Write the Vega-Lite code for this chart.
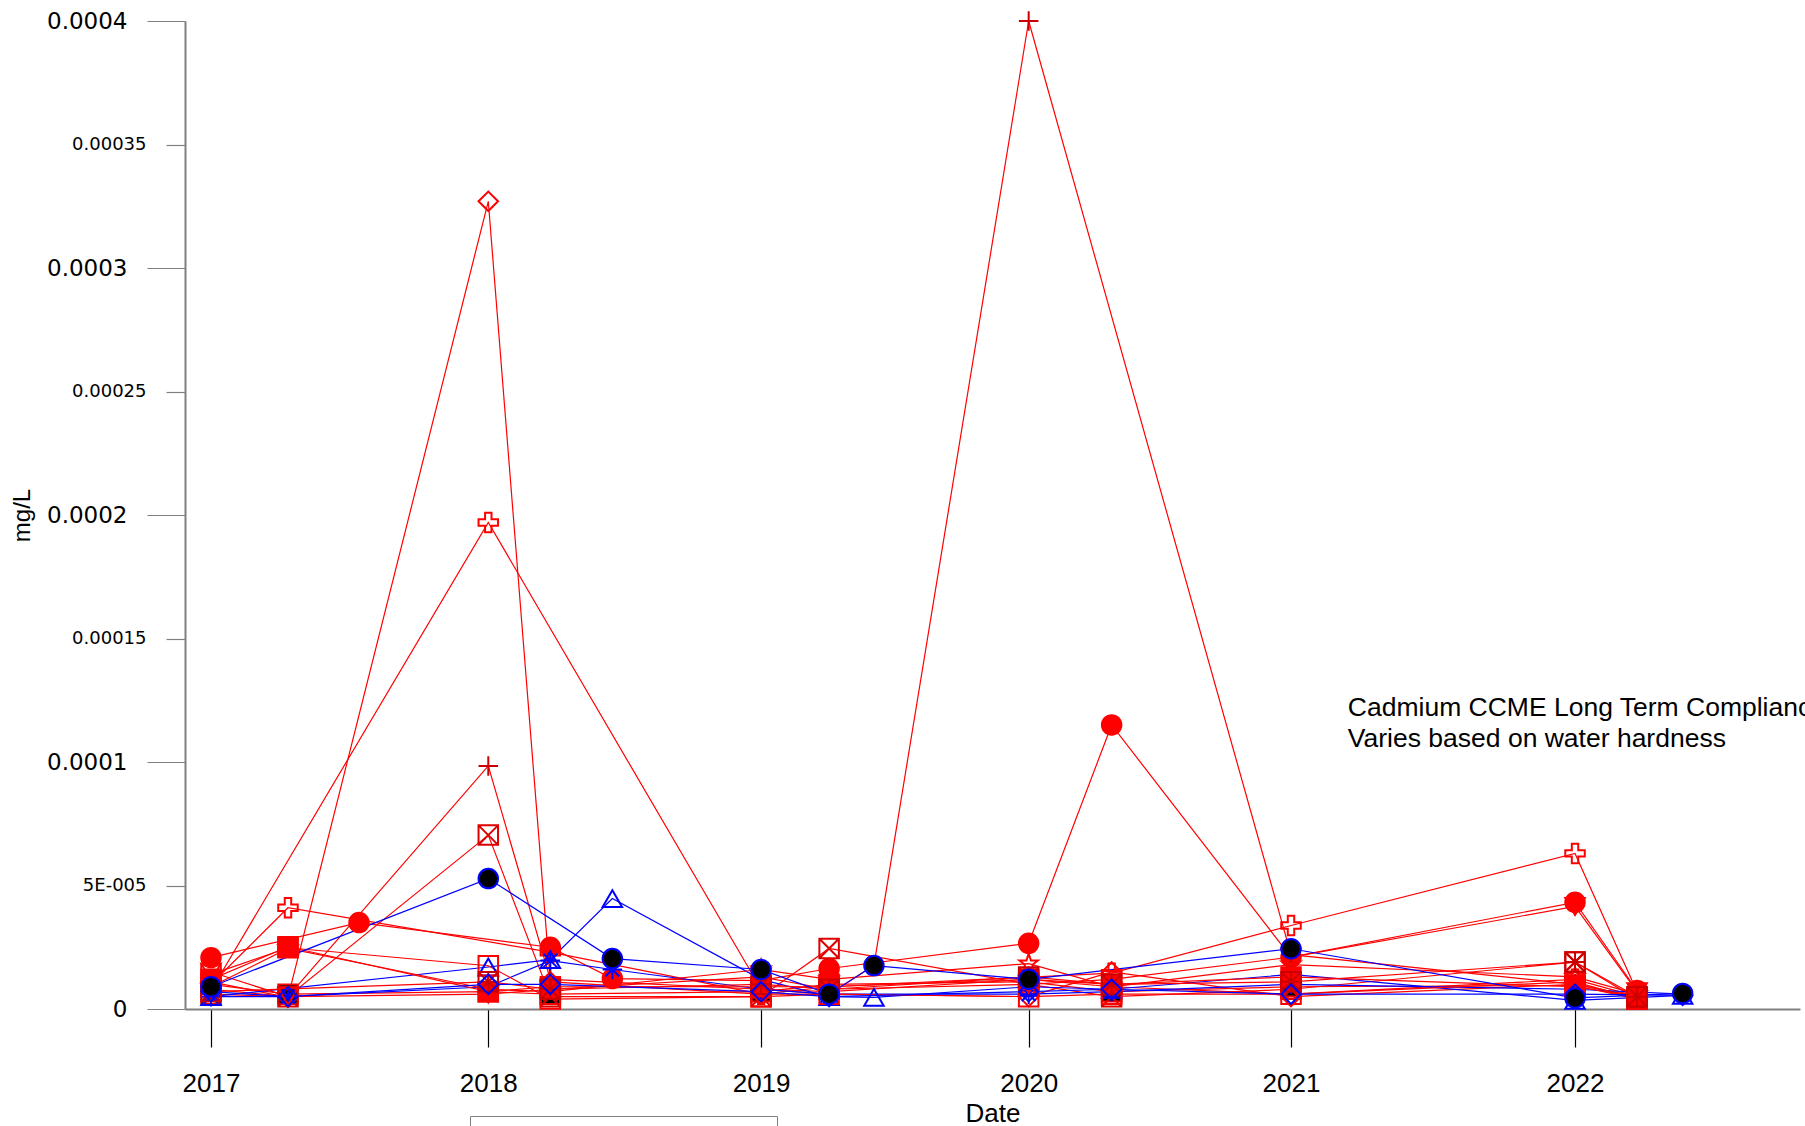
{
  "$schema": "https://vega.github.io/schema/vega-lite/v6.json",
  "width": 1615,
  "height": 988,
  "autosize": {"type": "none"},
  "padding": {"left": 185, "top": 21, "right": 5, "bottom": 117},
  "background": "white",
  "config": {"view": {"stroke": null}, "font": "Liberation Sans"},
  "datasets": {
    "obs": [
      {"site": "Station 15", "date": "2017-03-01", "value": 1.0e-5},
      {"site": "Station 15", "date": "2017-06-12", "value": 0.6e-5},
      {"site": "Station 15", "date": "2018-03-07", "value": 0.7e-5},
      {"site": "Station 15", "date": "2018-05-29", "value": 0.6e-5},
      {"site": "Station 15", "date": "2019-03-07", "value": 0.7e-5},
      {"site": "Station 15", "date": "2019-06-06", "value": 1.0e-5},
      {"site": "Station 15", "date": "2020-02-28", "value": 1.1e-5},
      {"site": "Station 15", "date": "2020-06-18", "value": 0.7e-5},
      {"site": "Station 15", "date": "2021-02-13", "value": 0.9e-5},
      {"site": "Station 15", "date": "2022-02-28", "value": 0.95e-5},
      {"site": "Station 15", "date": "2022-05-22", "value": 0.4e-5},

      {"site": "Station 01", "date": "2017-03-01", "value": 2.08e-5},
      {"site": "Station 01", "date": "2017-09-15", "value": 3.5e-5},
      {"site": "Station 01", "date": "2018-05-29", "value": 2.5e-5},
      {"site": "Station 01", "date": "2018-08-20", "value": 1.23e-5},
      {"site": "Station 01", "date": "2019-03-07", "value": 1.15e-5},
      {"site": "Station 01", "date": "2019-06-06", "value": 1.64e-5},
      {"site": "Station 01", "date": "2020-02-28", "value": 2.66e-5},
      {"site": "Station 01", "date": "2020-06-18", "value": 11.5e-5},
      {"site": "Station 01", "date": "2021-02-13", "value": 2.1e-5},
      {"site": "Station 01", "date": "2022-02-28", "value": 4.32e-5},
      {"site": "Station 01", "date": "2022-05-22", "value": 0.75e-5},

      {"site": "Station 02", "date": "2017-03-01", "value": 1.0e-5},
      {"site": "Station 02", "date": "2017-06-12", "value": 4.1e-5},
      {"site": "Station 02", "date": "2018-05-29", "value": 2.3e-5},
      {"site": "Station 02", "date": "2019-03-07", "value": 0.6e-5},
      {"site": "Station 02", "date": "2019-06-06", "value": 0.9e-5},
      {"site": "Station 02", "date": "2020-06-18", "value": 1.45e-5},
      {"site": "Station 02", "date": "2021-02-13", "value": 3.38e-5},
      {"site": "Station 02", "date": "2022-02-28", "value": 6.3e-5},
      {"site": "Station 02", "date": "2022-05-22", "value": 0.7e-5},

      {"site": "Station 03", "date": "2017-03-01", "value": 1.1e-5},
      {"site": "Station 03", "date": "2017-06-12", "value": 0.47e-5},
      {"site": "Station 03", "date": "2018-03-07", "value": 32.7e-5},
      {"site": "Station 03", "date": "2018-05-29", "value": 1.1e-5},
      {"site": "Station 03", "date": "2019-03-07", "value": 0.6e-5},
      {"site": "Station 03", "date": "2019-06-06", "value": 0.6e-5},
      {"site": "Station 03", "date": "2020-02-28", "value": 0.5e-5},
      {"site": "Station 03", "date": "2020-06-18", "value": 1.5e-5},
      {"site": "Station 03", "date": "2021-02-13", "value": 0.5e-5},
      {"site": "Station 03", "date": "2022-02-28", "value": 1.0e-5},
      {"site": "Station 03", "date": "2022-05-22", "value": 0.5e-5},

      {"site": "Station 04", "date": "2017-03-01", "value": 0.8e-5},
      {"site": "Station 04", "date": "2017-06-12", "value": 0.5e-5},
      {"site": "Station 04", "date": "2018-03-07", "value": 9.84e-5},
      {"site": "Station 04", "date": "2018-05-29", "value": 1.2e-5},
      {"site": "Station 04", "date": "2019-03-07", "value": 0.8e-5},
      {"site": "Station 04", "date": "2019-06-06", "value": 0.6e-5},
      {"site": "Station 04", "date": "2019-08-05", "value": 1.77e-5},
      {"site": "Station 04", "date": "2020-02-28", "value": 40e-5},
      {"site": "Station 04", "date": "2021-02-13", "value": 2.2e-5},
      {"site": "Station 04", "date": "2022-02-28", "value": 1.0e-5},
      {"site": "Station 04", "date": "2022-05-22", "value": 0.5e-5},

      {"site": "Station 05", "date": "2017-03-01", "value": 0.6e-5},
      {"site": "Station 05", "date": "2017-06-12", "value": 0.5e-5},
      {"site": "Station 05", "date": "2018-03-07", "value": 7.04e-5},
      {"site": "Station 05", "date": "2018-05-29", "value": 0.5e-5},
      {"site": "Station 05", "date": "2019-03-07", "value": 0.5e-5},
      {"site": "Station 05", "date": "2019-06-06", "value": 2.45e-5},
      {"site": "Station 05", "date": "2020-02-28", "value": 1.0e-5},
      {"site": "Station 05", "date": "2020-06-18", "value": 0.5e-5},
      {"site": "Station 05", "date": "2021-02-13", "value": 0.8e-5},
      {"site": "Station 05", "date": "2022-02-28", "value": 1.9e-5},
      {"site": "Station 05", "date": "2022-05-22", "value": 0.4e-5},

      {"site": "Station 06", "date": "2017-03-01", "value": 0.75e-5},
      {"site": "Station 06", "date": "2018-03-07", "value": 19.7e-5},
      {"site": "Station 06", "date": "2019-03-07", "value": 0.8e-5},
      {"site": "Station 06", "date": "2019-06-06", "value": 0.7e-5},
      {"site": "Station 06", "date": "2020-02-28", "value": 1.2e-5},
      {"site": "Station 06", "date": "2020-06-18", "value": 0.9e-5},
      {"site": "Station 06", "date": "2021-02-13", "value": 0.6e-5},
      {"site": "Station 06", "date": "2022-02-28", "value": 1.2e-5},
      {"site": "Station 06", "date": "2022-05-22", "value": 0.5e-5},

      {"site": "Station 08", "date": "2017-03-01", "value": 0.5e-5},
      {"site": "Station 08", "date": "2018-03-07", "value": 1.7e-5},
      {"site": "Station 08", "date": "2018-05-29", "value": 2.0e-5},
      {"site": "Station 08", "date": "2018-08-20", "value": 4.47e-5},
      {"site": "Station 08", "date": "2019-03-07", "value": 1.2e-5},
      {"site": "Station 08", "date": "2019-06-06", "value": 0.5e-5},
      {"site": "Station 08", "date": "2019-08-05", "value": 0.47e-5},
      {"site": "Station 08", "date": "2020-02-28", "value": 0.9e-5},
      {"site": "Station 08", "date": "2020-06-18", "value": 0.8e-5},
      {"site": "Station 08", "date": "2021-02-13", "value": 1.4e-5},
      {"site": "Station 08", "date": "2022-02-28", "value": 0.35e-5},
      {"site": "Station 08", "date": "2022-07-22", "value": 0.55e-5},

      {"site": "Station 09", "date": "2017-03-01", "value": 0.5e-5},
      {"site": "Station 09", "date": "2017-06-12", "value": 0.5e-5},
      {"site": "Station 09", "date": "2018-03-07", "value": 0.9e-5},
      {"site": "Station 09", "date": "2018-05-29", "value": 1.96e-5},
      {"site": "Station 09", "date": "2018-08-20", "value": 1.6e-5},
      {"site": "Station 09", "date": "2019-03-07", "value": 0.8e-5},
      {"site": "Station 09", "date": "2019-06-06", "value": 0.6e-5},
      {"site": "Station 09", "date": "2020-02-28", "value": 0.6e-5},
      {"site": "Station 09", "date": "2020-06-18", "value": 0.7e-5},
      {"site": "Station 09", "date": "2021-02-13", "value": 1.0e-5},
      {"site": "Station 09", "date": "2022-02-28", "value": 0.8e-5},
      {"site": "Station 09", "date": "2022-07-22", "value": 0.6e-5},

      {"site": "Station 10", "date": "2017-03-01", "value": 1.2e-5},
      {"site": "Station 10", "date": "2017-06-12", "value": 2.52e-5},
      {"site": "Station 10", "date": "2018-03-07", "value": 0.7e-5},
      {"site": "Station 10", "date": "2018-05-29", "value": 0.9e-5},
      {"site": "Station 10", "date": "2019-03-07", "value": 0.9e-5},
      {"site": "Station 10", "date": "2019-06-06", "value": 0.9e-5},
      {"site": "Station 10", "date": "2020-02-28", "value": 1.2e-5},
      {"site": "Station 10", "date": "2020-06-18", "value": 1.0e-5},
      {"site": "Station 10", "date": "2021-02-13", "value": 1.3e-5},
      {"site": "Station 10", "date": "2022-02-28", "value": 0.9e-5},
      {"site": "Station 10", "date": "2022-05-22", "value": 0.5e-5},

      {"site": "Station 11", "date": "2017-03-01", "value": 1.4e-5},
      {"site": "Station 11", "date": "2017-06-12", "value": 2.48e-5},
      {"site": "Station 11", "date": "2018-03-07", "value": 1.75e-5},
      {"site": "Station 11", "date": "2018-05-29", "value": 0.4e-5},
      {"site": "Station 11", "date": "2019-03-07", "value": 0.5e-5},
      {"site": "Station 11", "date": "2019-06-06", "value": 0.6e-5},
      {"site": "Station 11", "date": "2020-02-28", "value": 0.5e-5},
      {"site": "Station 11", "date": "2020-06-18", "value": 0.6e-5},
      {"site": "Station 11", "date": "2021-02-13", "value": 0.6e-5},
      {"site": "Station 11", "date": "2022-02-28", "value": 1.1e-5},
      {"site": "Station 11", "date": "2022-05-22", "value": 0.4e-5},

      {"site": "Station 12", "date": "2017-03-01", "value": 0.9e-5},
      {"site": "Station 12", "date": "2017-06-12", "value": 2.45e-5},
      {"site": "Station 12", "date": "2018-03-07", "value": 0.8e-5},
      {"site": "Station 12", "date": "2018-05-29", "value": 0.7e-5},
      {"site": "Station 12", "date": "2019-03-07", "value": 1.6e-5},
      {"site": "Station 12", "date": "2019-06-06", "value": 1.2e-5},
      {"site": "Station 12", "date": "2020-02-28", "value": 1.84e-5},
      {"site": "Station 12", "date": "2020-06-18", "value": 0.9e-5},
      {"site": "Station 12", "date": "2021-02-13", "value": 1.8e-5},
      {"site": "Station 12", "date": "2022-02-28", "value": 1.3e-5},
      {"site": "Station 12", "date": "2022-05-22", "value": 0.6e-5},

      {"site": "Station 13", "date": "2017-03-01", "value": 1.5e-5},
      {"site": "Station 13", "date": "2017-06-12", "value": 0.5e-5},
      {"site": "Station 13", "date": "2018-03-07", "value": 0.6e-5},
      {"site": "Station 13", "date": "2018-05-29", "value": 0.8e-5},
      {"site": "Station 13", "date": "2019-03-07", "value": 1.3e-5},
      {"site": "Station 13", "date": "2019-06-06", "value": 0.8e-5},
      {"site": "Station 13", "date": "2020-02-28", "value": 1.0e-5},
      {"site": "Station 13", "date": "2020-06-18", "value": 1.2e-5},
      {"site": "Station 13", "date": "2021-02-13", "value": 2.1e-5},
      {"site": "Station 13", "date": "2022-02-28", "value": 4.15e-5},
      {"site": "Station 13", "date": "2022-05-22", "value": 0.7e-5},

      {"site": "Station 14", "date": "2017-03-01", "value": 0.7e-5},
      {"site": "Station 14", "date": "2018-03-07", "value": 1.1e-5},
      {"site": "Station 14", "date": "2018-05-29", "value": 0.8e-5},
      {"site": "Station 14", "date": "2019-03-07", "value": 1.0e-5},
      {"site": "Station 14", "date": "2019-06-06", "value": 0.8e-5},
      {"site": "Station 14", "date": "2020-02-28", "value": 1.3e-5},
      {"site": "Station 14", "date": "2020-06-18", "value": 1.0e-5},
      {"site": "Station 14", "date": "2021-02-13", "value": 1.1e-5},
      {"site": "Station 14", "date": "2022-02-28", "value": 1.9e-5},
      {"site": "Station 14", "date": "2022-05-22", "value": 0.5e-5},

      {"site": "Station 16", "date": "2017-03-01", "value": 0.7e-5},
      {"site": "Station 16", "date": "2017-06-12", "value": 0.5e-5},
      {"site": "Station 16", "date": "2018-03-07", "value": 1.0e-5},
      {"site": "Station 16", "date": "2018-05-29", "value": 1.0e-5},
      {"site": "Station 16", "date": "2019-03-07", "value": 0.7e-5},
      {"site": "Station 16", "date": "2019-06-06", "value": 0.5e-5},
      {"site": "Station 16", "date": "2020-02-28", "value": 0.7e-5},
      {"site": "Station 16", "date": "2020-06-18", "value": 0.8e-5},
      {"site": "Station 16", "date": "2021-02-13", "value": 0.6e-5},
      {"site": "Station 16", "date": "2022-02-28", "value": 0.6e-5},
      {"site": "Station 16", "date": "2022-07-22", "value": 0.55e-5},

      {"site": "Station 07", "date": "2017-03-01", "value": 0.9e-5},
      {"site": "Station 07", "date": "2018-03-07", "value": 5.28e-5},
      {"site": "Station 07", "date": "2018-08-20", "value": 2.04e-5},
      {"site": "Station 07", "date": "2019-03-07", "value": 1.6e-5},
      {"site": "Station 07", "date": "2019-06-06", "value": 0.6e-5},
      {"site": "Station 07", "date": "2019-08-05", "value": 1.76e-5},
      {"site": "Station 07", "date": "2020-02-28", "value": 1.2e-5},
      {"site": "Station 07", "date": "2021-02-13", "value": 2.44e-5},
      {"site": "Station 07", "date": "2022-02-28", "value": 0.45e-5},
      {"site": "Station 07", "date": "2022-07-22", "value": 0.63e-5}
    ],
    "note": [
      {"label": "Cadmium CCME Long Term Compliance", "date": "2021-04-30", "value": 12.17e-5},
      {"label": "Varies based on water hardness", "date": "2021-04-30", "value": 10.95e-5}
    ]
  },
  "layer": [
    {
      "data": {"name": "obs"},
      "mark": {"type": "line", "strokeWidth": 1.2},
      "encoding": {
        "x": {
          "field": "date", "type": "temporal",
          "scale": {"type": "utc", "domain": [{"year": 2017, "month": 1, "date": 25, "hours": 5, "utc": true}, {"year": 2022, "month": 12, "date": 26, "utc": true}]},
          "axis": {
            "values": [
              {"year": 2017, "month": 3, "date": 1, "utc": true},
              {"year": 2018, "month": 3, "date": 7, "utc": true},
              {"year": 2019, "month": 3, "date": 7, "utc": true},
              {"year": 2020, "month": 2, "date": 28, "utc": true},
              {"year": 2021, "month": 2, "date": 13, "utc": true},
              {"year": 2022, "month": 2, "date": 28, "utc": true}
            ],
            "labelExpr": "utcFormat(datum.value, '%Y')",
            "grid": false,
            "tickSize": 38, "tickColor": "#000000", "tickWidth": 1.2,
            "domainColor": "#808080", "domainWidth": 2,
            "labelFont": "Liberation Sans", "labelFontSize": 26, "labelColor": "#000000", "labelPadding": 23,
            "labelFlush": false, "labelOverlap": false, "labelBound": false,
            "title": "Date", "titleFont": "Liberation Sans", "titleFontSize": 26, "titleFontWeight": "normal",
            "titleColor": "#000000", "titleY": 112, "titleBaseline": "alphabetic"
          }
        },
        "y": {
          "field": "value", "type": "quantitative",
          "scale": {"domain": [0, 0.0004], "nice": false, "zero": true},
          "axis": {
            "values": [0, 5e-5, 1e-4, 1.5e-4, 2e-4, 2.5e-4, 3e-4, 3.5e-4, 4e-4],
            "labelExpr": "datum.value < 1e-6 ? '0' : (abs(datum.value - 5e-5) < 1e-6 ? '5E-005' : format(datum.value, '.5~f'))",
            "grid": false,
            "tickSize": {"condition": {"test": "round(datum.value * 100000) % 10 === 0", "value": 38}, "value": 19},
            "labelFontSize": {"condition": {"test": "round(datum.value * 100000) % 10 === 0", "value": 23}, "value": 18},
            "labelFont": "DejaVu Sans",
            "labelColor": "#000000",
            "labelPadding": 20,
            "tickColor": "#808080", "tickWidth": 1.2,
            "domainColor": "#808080", "domainWidth": 2,
            "labelFlush": false, "labelOverlap": false, "labelBound": false,
            "title": "mg/L", "titleFont": "Liberation Sans", "titleFontSize": 24, "titleFontWeight": "normal",
            "titleColor": "#000000", "titleAngle": 270, "titleX": -163, "titleBaseline": "middle", "titleAlign": "center"
          }
        },
        "detail": {"field": "site", "type": "nominal"},
        "color": {
          "field": "site", "type": "nominal",
          "scale": {
            "domain": ["Station 01", "Station 02", "Station 03", "Station 04", "Station 05", "Station 06", "Station 07", "Station 08", "Station 09", "Station 10", "Station 11", "Station 12", "Station 13", "Station 14", "Station 15", "Station 16"],
            "range": ["#FF0000", "#FF0000", "#FF0000", "#FF0000", "#FF0000", "#FF0000", "#0000FF", "#0000FF", "#0000FF", "#FF0000", "#FF0000", "#FF0000", "#FF0000", "#FF0000", "#FF0000", "#0000FF"]
          }
        }
      }
    },
    {
      "data": {"name": "obs"},
      "mark": {"type": "point", "filled": true, "size": 380, "strokeWidth": 2, "opacity": 1, "fillOpacity": 1},
      "encoding": {
        "x": {"field": "date", "type": "temporal"},
        "y": {"field": "value", "type": "quantitative"},
        "shape": {
          "field": "site", "type": "nominal",
          "scale": {
            "domain": ["Station 01", "Station 02", "Station 03", "Station 04", "Station 05", "Station 06", "Station 07", "Station 08", "Station 09", "Station 10", "Station 11", "Station 12", "Station 13", "Station 14", "Station 15", "Station 16"],
            "range": [
              "circle",
              "M-0.33,-1H0.33V-0.33H1V0.33H0.33V1H-0.33V0.33H-1V-0.33H-0.33Z",
              "diamond",
              "M-1,0H1M0,-1V1",
              "M-1,-1H1V1H-1ZM-1,-1L1,1M1,-1L-1,1",
              "M-0.33,-1H0.33V-0.33H1V0.33H0.33V1H-0.33V0.33H-1V-0.33H-0.33Z",
              "circle",
              "triangle-up",
              "M-1,0H1M0,-1V1M-0.7,-0.7L0.7,0.7M0.7,-0.7L-0.7,0.7",
              "square",
              "square",
              "M0,-1L0.235,-0.324L0.951,-0.309L0.38,0.124L0.588,0.809L0,0.4L-0.588,0.809L-0.38,0.124L-0.951,-0.309L-0.235,-0.324Z",
              "triangle-down",
              "M-1,-1H1V1H-1ZM-1,-1L1,1M1,-1L-1,1M0,-1V1M-1,0H1",
              "square",
              "diamond"
            ]
          },
          "legend": {
            "orient": "none", "legendX": 285, "legendY": 1095,
            "strokeColor": "#808080", "fillColor": "#FFFFFF", "padding": 145.5,
            "title": null, "labelExpr": "''", "labelOffset": 4,
            "symbolSize": 100, "symbolStrokeWidth": 1.5, "direction": "vertical"
          }
        },
        "stroke": {
          "field": "site", "type": "nominal",
          "scale": {
            "domain": ["Station 01", "Station 02", "Station 03", "Station 04", "Station 05", "Station 06", "Station 07", "Station 08", "Station 09", "Station 10", "Station 11", "Station 12", "Station 13", "Station 14", "Station 15", "Station 16"],
            "range": ["#FF0000", "#FF0000", "#FF0000", "#CC0000", "#DD0000", "#FF0000", "#0000FF", "#0000FF", "#0000FF", "#FF0000", "#FF0000", "#FF0000", "#FF0000", "#CC0000", "#FF0000", "#0000FF"]
          }
        },
        "fill": {
          "field": "site", "type": "nominal",
          "scale": {
            "domain": ["Station 01", "Station 02", "Station 03", "Station 04", "Station 05", "Station 06", "Station 07", "Station 08", "Station 09", "Station 10", "Station 11", "Station 12", "Station 13", "Station 14", "Station 15", "Station 16"],
            "range": ["#FF0000", "transparent", "transparent", "transparent", "transparent", "transparent", "#000000", "transparent", "transparent", "#FF0000", "transparent", "transparent", "transparent", "transparent", "#000000", "transparent"]
          }
        }
      }
    },
    {
      "data": {"name": "note"},
      "mark": {"type": "text", "align": "left", "baseline": "middle", "font": "Liberation Sans", "fontSize": 26.5, "color": "#000000"},
      "encoding": {
        "x": {"field": "date", "type": "temporal"},
        "y": {"field": "value", "type": "quantitative"},
        "text": {"field": "label", "type": "nominal"}
      }
    }
  ]
}
